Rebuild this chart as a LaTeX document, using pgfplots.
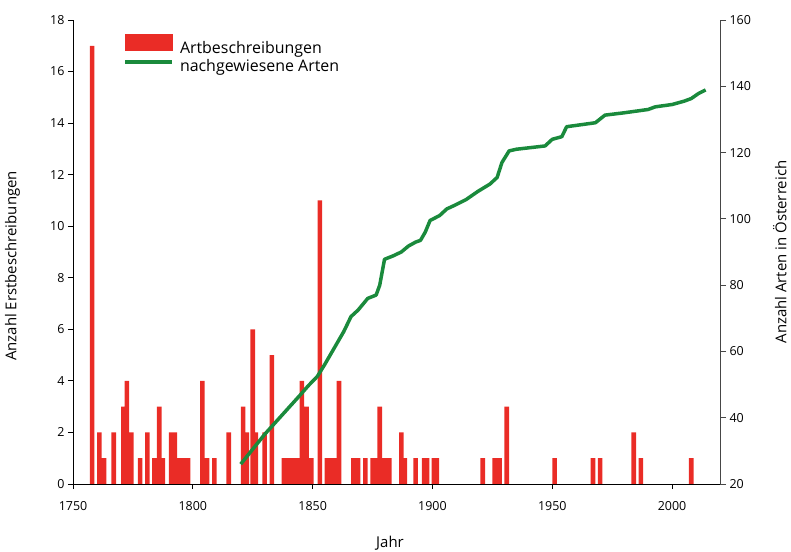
\documentclass[border=0pt]{standalone}
\usepackage{fontspec}
\setmainfont{Open Sans}
\usepackage{pgfplots}
\pgfplotsset{compat=1.18}
\definecolor{barred}{RGB}{234,44,38}
\definecolor{linegreen}{RGB}{26,138,60}
\definecolor{axgray}{RGB}{70,70,70}
\pgfplotstableread{
year n
1758 17
1761 2
1763 1
1767 2
1771 3
1772.5 4
1774.3 2
1778 1
1781 2
1784 1
1786 3
1787.5 1
1791 2
1792.5 2
1794 1
1796 1
1798 1
1804 4
1806 1
1809 1
1815 2
1821 3
1822.5 2
1825 6
1826.3 2
1830 2
1833 5
1838 1
1840 1
1842 1
1844 1
1845.5 4
1847.5 3
1849.5 1
1853 11
1856 1
1858 1
1859.5 1
1861 4
1867 1
1869 1
1872 1
1875 1
1877 1
1878 3
1880 1
1882 1
1887 2
1888.5 1
1893 1
1896.5 1
1897.8 1
1900.6 1
1901.8 1
1921 1
1926 1
1928 1
1931 3
1951 1
1967 1
1970 1
1984 2
1987 1
2008 1
}\bars
\pgfplotstableread{
year n
1820 26
1825 30.5
1830 35
1835 39
1840 43
1845 47
1848 49.5
1850 51
1852 52.5
1855 56
1859 61
1863 66
1866 70.5
1869 72.5
1873 76
1876.5 77
1878 80
1880 87.8
1883.5 88.8
1887 90
1890 91.8
1893 93
1895 93.5
1897 96
1899 99.5
1903 101
1906 103
1909 104
1914 105.8
1919 108.3
1924 110.5
1927 112.5
1929 117
1932 120.5
1935 121
1947 122
1950 124
1954 124.8
1956 127.8
1968 129
1972 131.3
1980 132
1990 133
1993 133.8
2000 134.5
2005 135.5
2008 136.3
2011 137.8
2014 138.9
}\arten
\begin{document}
\begin{tikzpicture}
\useasboundingbox (0bp,0bp) rectangle (791bp,552bp);
\begin{axis}[
  at={(73bp,68bp)}, anchor=south west, scale only axis,
  width=647bp, height=464bp,
  xmin=1750, xmax=2020, ymin=0, ymax=18,
  axis x line*=bottom, axis y line*=left,
  axis line style={-, black, line width=0.9bp},
  xtick={1750,1800,...,2000}, ytick={0,2,...,18},
  tick align=outside, major tick length=5bp,
  tick style={black, line width=0.8bp},
  ticklabel style={font=\fontsize{12.5}{14}\selectfont},
  xticklabel style={yshift=-9bp},
  /pgf/number format/assume math mode=true,
  /pgf/number format/1000 sep={},
  xlabel={Jahr},
  xlabel style={at={(axis description cs:0.49,0)}, anchor=center, yshift=-59bp, font=\fontsize{15}{18}\selectfont},
  ylabel={Anzahl Erstbeschreibungen},
  ylabel style={at={(axis description cs:-0.0935,0.47)}, anchor=center, font=\fontsize{15}{18}\selectfont},
]
\addplot[ybar, bar width=1.9, fill=barred, draw=none] table[x=year, y=n] {\bars};
\end{axis}
\begin{axis}[
  at={(73bp,68bp)}, anchor=south west, scale only axis,
  width=647bp, height=464bp,
  xmin=1750, xmax=2020, ymin=20, ymax=160,
  axis x line=none, axis y line*=right,
  axis line style={-, axgray, line width=0.9bp},
  ytick={20,40,...,160},
  tick align=outside, major tick length=6bp,
  tick style={axgray, line width=0.8bp},
  ticklabel style={font=\fontsize{12.5}{14}\selectfont},
  /pgf/number format/assume math mode=true,
  ylabel={Anzahl Arten in Österreich},
  ylabel style={at={(axis description cs:1.0925,0.5)}, anchor=center, rotate=0, font=\fontsize{15}{18}\selectfont},
  legend style={at={(axis description cs:0.0773,0.9698)}, anchor=north west, draw=none, fill=none,
    inner sep=0pt, outer sep=0pt, font=\fontsize{16}{19}\selectfont, row sep=0pt,
    /tikz/every odd column/.append style={column sep=4bp}},
  legend cell align=left,
]
\addlegendimage{legend image code/.code={\fill[barred] (0bp,-2bp) rectangle (47bp,14bp);}}
\addlegendentry{Artbeschreibungen}
\addplot[linegreen, line width=3.5bp, line join=round,
  legend image code/.code={\draw[linegreen,line width=4bp] (0bp,4bp)--(47bp,4bp);}]
  table[x=year, y=n] {\arten};
\addlegendentry{nachgewiesene Arten}
\end{axis}
\end{tikzpicture}
\end{document}
